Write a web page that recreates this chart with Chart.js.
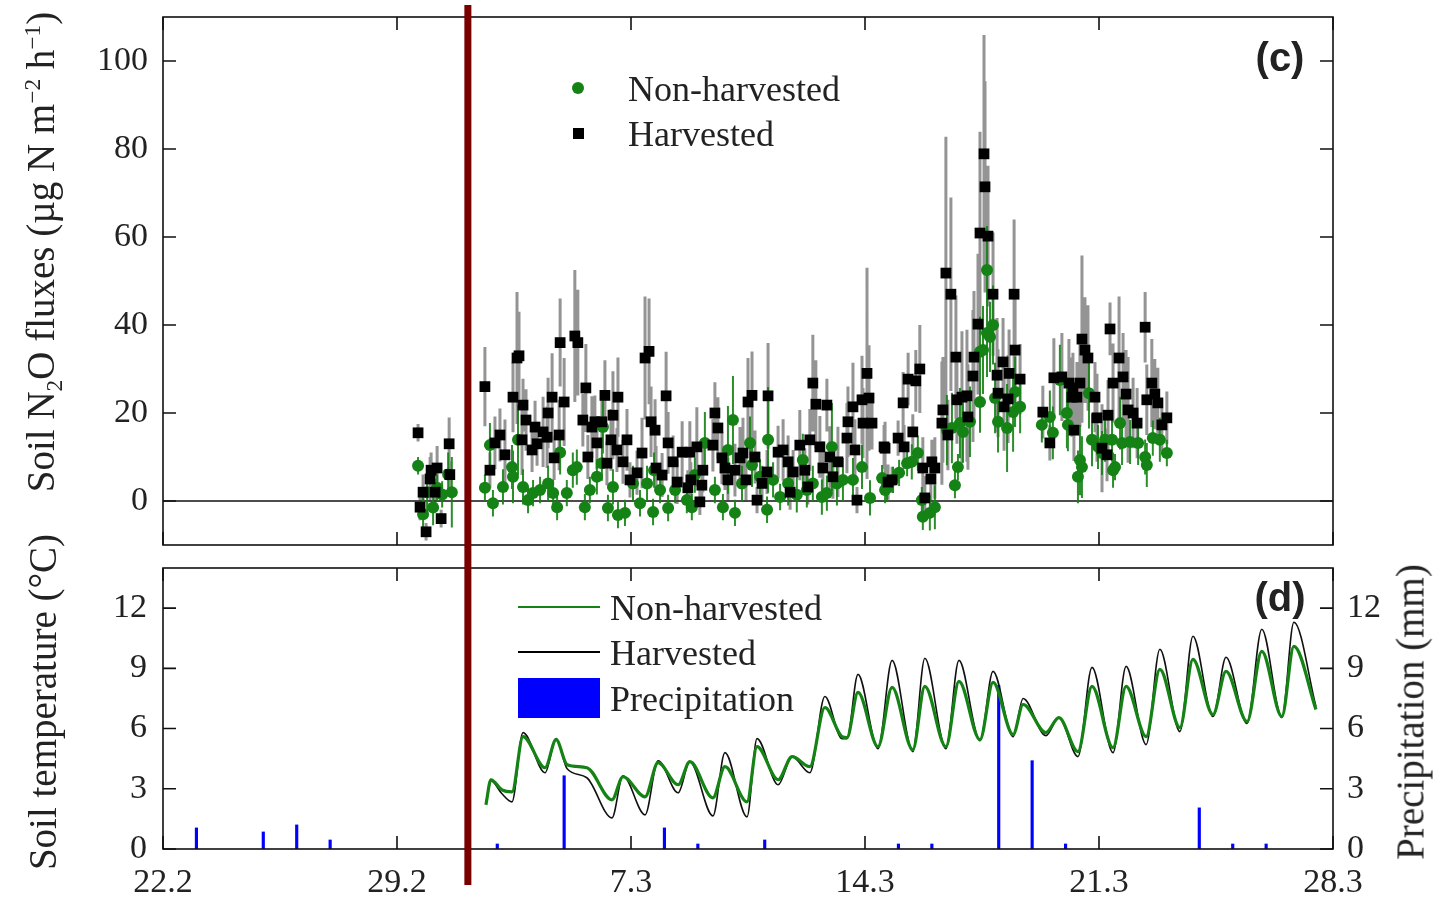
<!DOCTYPE html>
<html>
<head>
<meta charset="utf-8">
<script src="https://cdn.jsdelivr.net/npm/chart.js@4.4.0/dist/chart.umd.min.js"></script>
<style>
  html, body { margin:0; padding:0; background:#fff; }
  #wrap { position:relative; width:1434px; height:899px; overflow:hidden; font-family:'Liberation Serif','Times New Roman',serif; color:#222; }
  canvas { position:absolute; left:0; }
  .t { position:absolute; white-space:nowrap; line-height:1; }
  .rot { transform: translate(-50%,-50%) rotate(-90deg); }
  .mid { transform: translateY(-50%); }
  .ctr { transform: translate(-50%,-50%); }
  sub, sup { font-size:60%; line-height:0; }
</style>
</head>
<body>
<div id="wrap">
  <canvas id="c1" width="1434" height="556" style="top:0"></canvas>
  <canvas id="c2" width="1434" height="343" style="top:556px"></canvas>

  <div class="t rot" style="left:40px;top:252px;font-size:39px;">Soil N<sub>2</sub>O fluxes (µg N m<sup>−2</sup> h<sup>−1</sup>)</div>
  <div class="t rot" style="left:42px;top:702px;font-size:39px;">Soil temperature (°C)</div>
  <div class="t rot" style="left:1410px;top:712px;font-size:39px;">Precipitation (mm)</div>

  <div class="t ctr" style="left:1280px;top:57px;font-size:40px;font-weight:bold;font-family:'Liberation Sans',Arial,sans-serif;">(c)</div>
  <div class="t ctr" style="left:1280px;top:597px;font-size:40px;font-weight:bold;font-family:'Liberation Sans',Arial,sans-serif;">(d)</div>

  <div style="position:absolute;left:572px;top:82px;width:12px;height:12px;border-radius:50%;background:rgb(20,130,20);"></div>
  <div class="t mid" style="left:628px;top:89px;font-size:36px;">Non-harvested</div>
  <div style="position:absolute;left:573px;top:128px;width:11px;height:11px;background:#000;"></div>
  <div class="t mid" style="left:628px;top:134px;font-size:36px;">Harvested</div>

  <div style="position:absolute;left:518px;top:606px;width:82px;height:2px;background:rgb(20,130,20);"></div>
  <div class="t mid" style="left:610px;top:608px;font-size:36px;">Non-harvested</div>
  <div style="position:absolute;left:518px;top:651px;width:82px;height:1.5px;background:#000;"></div>
  <div class="t mid" style="left:610px;top:653px;font-size:36px;">Harvested</div>
  <div style="position:absolute;left:518px;top:678px;width:82px;height:40px;background:#0000ff;"></div>
  <div class="t mid" style="left:610px;top:699px;font-size:36px;">Precipitation</div>
</div>

<script>
// ---------- data (days since 22 Feb) ----------
const dayTicks  = [0, 7, 14, 21, 28, 35];
const dayLabels = ['22.2', '29.2', '7.3', '14.3', '21.3', '28.3'];
const fluxTicks = [0, 20, 40, 60, 80, 100];
const tempTicks = [0, 3, 6, 9, 12];
const precipTicks = [0, 3, 6, 9, 12];
const harvestDay = 9.12;

// Harvested soil N2O flux (day, value, error)
const fluxDaysH = [7.63,7.69,7.78,7.87,7.99,8.02,8.14,8.20,8.32,8.56,8.58,
 9.63,9.78,9.93,10.08,10.23,10.47,10.59,10.65,10.74,10.77,10.86,11.04,11.13,11.19,11.37,11.49,11.52,11.64,11.70,11.85,11.88,12.00,
 12.32,12.41,12.56,12.65,12.71,12.83,12.92,12.98,13.13,13.22,13.28,13.40,13.46,13.58,13.61,13.76,13.88,13.97,14.18,14.33,14.42,14.54,
 14.60,14.72,14.75,14.93,15.05,15.11,15.26,15.38,15.53,15.70,15.76,15.79,15.97,16.06,16.12,16.15,16.45,16.51,16.60,16.72,16.81,16.90,
 17.11,17.26,17.35,17.44,17.50,17.62,17.71,17.77,17.92,18.07,18.10,18.40,18.55,18.70,18.76,18.85,19.05,19.20,19.29,19.35,19.44,19.53,
 19.65,19.74,19.86,19.95,20.04,20.19,20.46,20.49,20.64,20.70,20.76,20.91,20.94,21.06,21.12,21.21,21.57,21.60,21.69,21.81,21.99,22.14,
 22.17,22.29,22.43,22.52,22.64,22.73,22.79,22.97,23.00,23.09,23.30,23.33,23.42,23.48,23.57,23.72,23.75,23.90,24.05,24.08,24.23,24.26,
 24.38,24.44,24.56,24.59,24.68,24.83,24.95,24.98,25.13,25.16,25.28,25.31,25.46,25.49,25.64,
 26.32,26.53,26.65,26.89,27.10,27.19,27.22,27.25,27.34,27.43,27.49,27.58,27.67,27.88,27.94,28.09,28.24,28.27,28.33,28.42,28.60,28.72,
 28.81,28.87,29.02,29.14,29.38,29.43,29.58,29.67,29.76,29.88,30.03];
const fluxH = [15.5,-1.4,2,-7,5,7,2,7.5,-4,13,6,
 26,7,13.2,15,10.5,23.6,32.5,33,13.9,21.8,18.4,11.6,16.8,13,15.7,14.5,20,23.6,9.8,15,36,22.5,
 37.5,36,18.4,25.7,10,16.8,18,13.2,18,24,8.6,13.9,19.5,11.6,23.6,8.9,13.9,4.8,6.4,10.9,32.5,34,
 18,16.1,7.5,5.9,23.9,13.2,8.9,4.3,11.1,3,11.1,4.8,12.3,-0.2,3.6,7,12.7,20,16.6,9.8,7.5,4.8,
 7,9.8,10.9,4.8,22.5,24,10,0.2,4,6.6,23.9,11.1,11.6,8.9,2,6.6,12.7,7,3.2,13.9,26.8,22,
 12.3,7.5,21.8,10,5.5,8.9,14.3,18,21.4,11.6,0.2,23,17.7,29,23.4,17.7,12.3,12,4.3,4.8,14.3,22.3,
 12.3,27.7,15.7,27.3,30,7.5,0.7,5,8.9,7.5,17.7,20.7,51.8,15,47,32.7,23,23.6,23.9,19.1,28.4,32.7,
 40.2,60.9,78.9,71.4,60.2,47,28.6,24.5,31.6,21.4,23.2,29,47,34.3,27.7,
 20.2,13.2,28,28.2,26.8,23.6,25.7,16.1,23.6,26.8,36.8,34.3,32.5,23.6,18.9,12,10.5,19.5,39.1,26.8,32.5,28.2,
 24.3,20.7,20,17.7,39.5,23,26.8,24.3,22.3,17.3,18.9];
const fluxErrH = [2,3,4,2,5,4,3,5,2,6,3,
 9,4,6,6,8,8,15,10,8,6,7,5,6,5,8,7,8,10,5,8,10,10,
 15,12,6,10,5,7,6,6,6,8,5,7,10,5,9,5,7,4,5,8,14,12,
 8,7,5,5,10,7,6,5,7,4,7,4,9,3,4,5,6,7,7,6,5,5,
 6,7,8,5,10,10,6,3,4,5,12,6,7,6,4,5,8,5,4,7,11,10,
 7,6,6,7,5,8,8,8,10,7,3,10,8,24,12,6,5,6,4,3,4,7,
 5,6,4,7,10,7,5,5,5,7,14,12,31,8,22,14,10,15,15,12,15,15,
 16,23,27,24,16,14,13,10,10,10,10,10,17,12,8,
 6,4,9,10,10,9,8,7,8,10,19,12,12,8,10,10,6,8,6,9,14,10,
 10,12,8,8,8,8,10,8,8,6,6];

// Non-harvested soil N2O flux (day, value, error)
const fluxDaysN = [7.63,7.78,7.90,8.08,8.20,8.35,8.53,8.64,
 9.63,9.78,9.87,10.17,10.44,10.47,10.62,10.77,10.92,11.07,11.28,11.52,11.67,11.79,11.88,12.08,12.26,12.38,12.62,12.77,12.98,13.13,
 13.16,13.31,13.46,13.61,13.82,14.06,14.27,14.48,14.66,14.69,14.87,15.11,15.32,15.67,15.82,15.91,16.21,16.51,16.75,16.90,17.05,17.11,
 17.32,17.56,17.62,17.86,18.07,18.10,18.25,18.46,18.70,18.96,19.14,19.26,19.44,19.71,19.86,20.01,20.16,20.34,20.64,20.91,21.15,
 21.51,21.60,21.66,21.84,22.02,22.26,22.40,22.58,22.70,22.73,22.94,23.09,23.45,23.60,23.69,23.78,23.84,23.93,24.14,24.44,24.44,
 24.53,24.65,24.65,24.74,24.83,24.89,24.98,25.25,25.43,25.49,25.64,
 26.29,26.53,26.62,26.83,27.04,27.07,27.37,27.43,27.49,27.70,27.79,27.97,28.09,28.18,28.39,28.42,28.48,28.63,28.69,28.93,29.17,
 29.38,29.43,29.61,29.82,30.03];
const fluxN = [8,-3,2,-1.5,3,1.5,6,2,
 3,12.7,-0.5,3.2,7.7,5.5,13.9,3.2,0.2,1.8,2.5,4,1.8,-1.4,11,1.8,7,7.7,-1.4,2.5,5.5,8.6,
 16.8,-1.6,3.2,-3.2,-2.7,4,-0.5,4,-2.5,7,2.5,-1.6,2.5,0.2,-1.4,5.9,13.2,2.5,-1.4,11.6,18.4,-2.7,
 4,13.2,8.2,5.5,-2,13.9,4.8,0.9,4,1.4,9.3,2.5,4,0.9,1.8,12.3,4,4.8,4.8,7.7,0.7,
 5.2,2.5,3,4.8,6.4,8.6,8.9,10.9,0.2,-3.6,-2.7,-1.4,16.1,16.6,3.6,7.7,17.7,15.7,18,22.5,33.9,
 34.3,38.2,52.5,37.3,40,23.4,18,16.6,20.2,24.8,21.4,
 17.3,19.1,15.5,27.5,20,17.3,5.5,9.3,7.7,24.5,13.9,12.3,10.9,13.9,13.9,7,7.7,17.7,13.2,13.4,13.2,
 10,8.2,14.3,13.9,10.9];
const fluxErrN = [2,4,5,4,3,3,5,8,
 3,5,3,4,5,6,8,4,3,3,3,4,3,3,5,3,4,4,3,3,4,4,
 6,3,4,3,3,4,3,4,3,4,3,3,3,3,3,4,7,3,3,10,10,3,
 4,6,5,4,3,12,4,3,5,4,6,4,4,4,4,10,5,5,5,5,4,
 3,3,3,3,3,3,4,4,3,3,4,5,8,8,3,3,8,7,8,7,8,
 10,10,10,8,9,8,7,10,9,8,6,
 4,6,6,8,8,6,6,8,7,8,6,5,5,5,5,4,3,6,5,5,5,
 4,5,4,5,3];

// Soil temperature (°C)
const tempDays = [9.66,9.81,10.14,10.44,10.77,11.43,11.76,12.09,12.68,13.43,13.76,14.42,14.81,15.41,15.76,16.45,16.81,17.47,17.77,18.40,
 18.82,19.35,19.80,20.31,20.46,20.79,21.39,21.81,22.43,22.79,23.42,23.81,24.44,24.83,25.43,25.73,26.41,26.80,27.37,27.79,
 28.42,28.81,29.41,29.82,30.42,30.81,31.41,31.80,32.43,32.87,33.47,33.83,34.49];
const tempN = [2.2,3.45,2.95,2.85,5.6,4.05,5.45,4.2,4.05,2.45,3.6,2.6,4.3,3.2,4.35,2.55,4.1,2.35,5.1,3.45,
 4.6,4.1,7.05,5.6,5.55,7.8,5.1,8.05,4.95,8.1,5.1,8.35,5.45,8.3,5.7,7.2,5.8,6.55,4.85,8.1,
 5.05,8.1,5.6,8.95,6.05,9.45,6.7,8.85,6.35,9.85,6.6,10.1,6.95];
const tempH = [2.3,3.4,2.75,2.35,5.8,3.8,5.5,4.0,3.55,1.55,3.65,1.7,4.4,2.8,4.35,1.65,4.8,1.6,5.5,3.2,
 4.6,3.8,7.6,5.5,5.5,8.7,5.0,9.4,4.85,9.5,5.0,9.4,5.4,8.85,5.6,7.5,5.65,6.55,4.6,9.05,
 4.8,9.1,5.2,9.95,5.85,10.6,6.6,9.55,6.25,10.95,6.55,11.3,7.1];

// Precipitation (mm)
const precipDays = [1,3,4,5,10,12,15,16,18,22,23,25,26,27,31,32,33];
const precipMm = [1.05,0.85,1.2,0.45,0.25,3.65,1.05,0.25,0.45,0.25,0.25,8.15,4.4,0.25,2.05,0.25,0.25];

// ---------- helpers ----------
const GREEN = 'rgb(20,130,20)';
const serif = "'Liberation Serif','Times New Roman',serif";
Chart.defaults.font.family = serif;
Chart.defaults.color = '#222';

const pts = (xs, ys) => xs.map((x, i) => ({x: x, y: ys[i]}));
const errSegs = (xs, ys, es) => {
  const out = [];
  xs.forEach((x, i) => {
    out.push({x: x, y: ys[i] - es[i]}, {x: x, y: ys[i] + es[i]}, {x: x, y: null});
  });
  return out;
};
const setTicks = list => scale => { scale.ticks = list.map(v => ({value: v})); };
const fitV = w => s => { s.width = w; s.paddingTop = 0; s.paddingBottom = 0; };
const fitH = h => s => { s.height = h; s.paddingLeft = 0; s.paddingRight = 0; };

const frameTicks = {
  id: 'frameTicks',
  afterDatasetsDraw(chart) {
    const {ctx, chartArea: a} = chart;
    const L = 13;
    ctx.save();
    ctx.strokeStyle = '#111';
    ctx.lineWidth = 1.6;
    ctx.strokeRect(a.left, a.top, a.right - a.left, a.bottom - a.top);
    ctx.beginPath();
    const xs = chart.scales.x;
    xs.ticks.forEach(t => {
      const p = xs.getPixelForValue(t.value);
      ctx.moveTo(p, a.bottom); ctx.lineTo(p, a.bottom - L);
      ctx.moveTo(p, a.top); ctx.lineTo(p, a.top + L);
    });
    const yl = chart.scales.y;
    const yr = chart.scales.y2 || chart.scales.y;
    yl.ticks.forEach(t => {
      const p = yl.getPixelForValue(t.value);
      ctx.moveTo(a.left, p); ctx.lineTo(a.left + L, p);
    });
    yr.ticks.forEach(t => {
      const p = yr.getPixelForValue(t.value);
      ctx.moveTo(a.right, p); ctx.lineTo(a.right - L, p);
    });
    ctx.stroke();
    ctx.restore();
  }
};

const zeroLine = {
  id: 'zeroLine',
  beforeDatasetsDraw(chart) {
    const {ctx, chartArea: a} = chart;
    const p = chart.scales.y.getPixelForValue(0);
    ctx.save();
    ctx.strokeStyle = '#111';
    ctx.lineWidth = 1.6;
    ctx.beginPath(); ctx.moveTo(a.left, p); ctx.lineTo(a.right, p); ctx.stroke();
    ctx.restore();
  }
};

const harvestLine = (y0, y1) => ({
  id: 'harvestLine',
  afterDraw(chart) {
    const ctx = chart.ctx;
    const p = chart.scales.x.getPixelForValue(harvestDay);
    ctx.save();
    ctx.strokeStyle = '#7a0000';
    ctx.lineWidth = 7;
    ctx.beginPath(); ctx.moveTo(p, y0); ctx.lineTo(p, y1 === null ? chart.height : y1); ctx.stroke();
    ctx.restore();
  }
});

const tickFont = {size: 34, family: serif};

// ---------- top panel (c) ----------
new Chart(document.getElementById('c1'), {
  type: 'scatter',
  data: {
    datasets: [
      {label: 'Harvested SE', data: errSegs(fluxDaysH, fluxH, fluxErrH), showLine: true, spanGaps: false,
       borderColor: 'rgba(60,60,60,0.55)', borderWidth: 3, pointRadius: 0, order: 4},
      {label: 'Non-harvested SE', data: errSegs(fluxDaysN, fluxN, fluxErrN), showLine: true, spanGaps: false,
       borderColor: 'rgba(20,130,20,0.9)', borderWidth: 2, pointRadius: 0, order: 3},
      {label: 'Non-harvested', data: pts(fluxDaysN, fluxN), pointStyle: 'circle', pointRadius: 6,
       backgroundColor: GREEN, borderColor: GREEN, borderWidth: 0, order: 2},
      {label: 'Harvested', data: pts(fluxDaysH, fluxH), pointStyle: 'rect', pointRadius: 7.6,
       backgroundColor: '#000', borderColor: '#000', borderWidth: 0, order: 1}
    ]
  },
  options: {
    responsive: false, animation: false, devicePixelRatio: 1,
    layout: {padding: {top: 17, right: 101, left: 0, bottom: 0}},
    plugins: {legend: {display: false}, tooltip: {enabled: false}},
    scales: {
      x: {type: 'linear', min: 0, max: 35,
          grid: {display: false, drawTicks: false}, border: {display: false},
          ticks: {display: false}, afterBuildTicks: setTicks(dayTicks),
          afterFit: fitH(11)},
      y: {type: 'linear', min: -10, max: 110,
          grid: {display: false, drawTicks: false}, border: {display: false},
          ticks: {font: tickFont, padding: 15, color: '#222'},
          afterBuildTicks: setTicks(fluxTicks),
          afterFit: fitV(163)}
    }
  },
  plugins: [zeroLine, frameTicks, harvestLine(5, null)]
});

// ---------- bottom panel (d) ----------
new Chart(document.getElementById('c2'), {
  type: 'line',
  data: {
    datasets: [
      {label: 'Non-harvested', data: pts(tempDays, tempN), borderColor: GREEN, borderWidth: 3.2,
       pointRadius: 0, cubicInterpolationMode: 'monotone', yAxisID: 'y', order: 1},
      {label: 'Harvested', data: pts(tempDays, tempH), borderColor: '#111', borderWidth: 1.6,
       pointRadius: 0, cubicInterpolationMode: 'monotone', yAxisID: 'y', order: 2},
      {type: 'bar', label: 'Precipitation', data: pts(precipDays, precipMm), backgroundColor: '#0000ff',
       barThickness: 2.5, yAxisID: 'y2', order: 3}
    ]
  },
  options: {
    responsive: false, animation: false, devicePixelRatio: 1,
    layout: {padding: {top: 12, right: 0, left: 0, bottom: 0}},
    plugins: {legend: {display: false}, tooltip: {enabled: false}},
    scales: {
      x: {type: 'linear', min: 0, max: 35, offset: false,
          grid: {display: false, drawTicks: false}, border: {display: false},
          ticks: {font: tickFont, padding: 14, color: '#222', maxRotation: 0,
                  callback: v => dayLabels[dayTicks.indexOf(v)]},
          afterBuildTicks: setTicks(dayTicks),
          afterFit: fitH(50)},
      y: {type: 'linear', position: 'left', min: 0, max: 14,
          grid: {display: false, drawTicks: false}, border: {display: false},
          ticks: {font: tickFont, padding: 16, color: '#222'},
          afterBuildTicks: setTicks(tempTicks),
          afterFit: fitV(163)},
      y2: {type: 'linear', position: 'right', min: 0, max: 14,
          grid: {display: false, drawTicks: false}, border: {display: false},
          ticks: {font: tickFont, padding: 14, color: '#222'},
          afterBuildTicks: setTicks(precipTicks),
          afterFit: fitV(101)}
    }
  },
  plugins: [frameTicks, harvestLine(0, 329)]
});
</script>
</body>
</html>
